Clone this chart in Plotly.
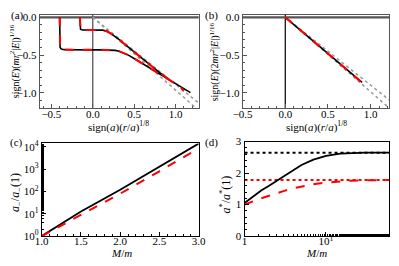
import plotly.graph_objects as go

# ---------------- data ----------------
# panel (a)
a_deep_x = [-0.40, -0.40, -0.399, -0.395, -0.385, -0.37, -0.34, -0.25, -0.1, 0.0, 0.1, 0.2, 0.27, 0.32, 0.37, 0.43, 0.5, 0.6, 0.7, 0.8, 0.9, 1.0, 1.1, 1.18]
a_deep_y = [0.0, -0.30, -0.36, -0.395, -0.415, -0.423, -0.427, -0.43, -0.43, -0.43, -0.43, -0.432, -0.437, -0.45, -0.47, -0.5, -0.545, -0.61, -0.675, -0.74, -0.81, -0.875, -0.94, -0.995]
a_deep_red_x = a_deep_x[:-2] + [1.06, 1.1]
a_deep_red_y = a_deep_y[:-2] + [-0.92, -0.975]
a_shal_x = [-0.155, -0.155, -0.153, -0.148, -0.14, -0.12, -0.05, 0.05, 0.12, 0.17, 0.22, 0.3, 0.4, 0.5, 0.6, 0.7, 0.8, 0.9]
a_shal_y = [0.0, -0.10, -0.135, -0.155, -0.163, -0.167, -0.168, -0.168, -0.17, -0.185, -0.215, -0.28, -0.37, -0.46, -0.55, -0.635, -0.725, -0.805]
a_dot1_x = [0.0, 1.3]
a_dot1_y = [0.0, -1.15]
a_dot2_x = [0.0, 1.3]
a_dot2_y = [0.0, -1.25]

# panel (b)
b_black_x = [0.0, 0.3, 0.6, 0.9]
b_black_y = [0.0, -0.285, -0.57, -0.86]
b_red_x = [0.0, 0.3, 0.6, 0.9, 0.95]
b_red_y = [0.0, -0.285, -0.57, -0.865, -0.92]
b_dot1_x = [0.0, 1.25]
b_dot1_y = [0.0, -1.12]
b_dot2_x = [0.0, 1.25]
b_dot2_y = [0.0, -1.23]

# panel (c)
c_x = [1.0, 1.5, 2.0, 2.5, 3.0]
c_black = [1.0, 12.6, 1.2e2, 1.35e3, 1.4e4]
c_red = [1.0, 8.9, 80.0, 8.0e2, 8.5e3]

# panel (d)
d_x = [1, 1.3, 1.6, 2, 2.5, 3, 4, 5, 7, 10, 15, 20, 30, 45, 60]
d_black = [1.05, 1.28, 1.45, 1.6, 1.76, 1.88, 2.1, 2.26, 2.43, 2.55, 2.62, 2.64, 2.65, 2.65, 2.65]
d_red = [1.0, 1.12, 1.2, 1.28, 1.37, 1.43, 1.52, 1.58, 1.65, 1.70, 1.74, 1.76, 1.77, 1.78, 1.78]
d_black_limit = 2.65
d_red_limit = 1.78

# ---------------- figure ----------------
FONT = "Liberation Serif"
fig = go.Figure()

def line(x, y, xa, ya, color, width, dash="solid"):
    fig.add_trace(go.Scatter(x=x, y=y, mode="lines", xaxis=xa, yaxis=ya,
                             line=dict(color=color, width=width, dash=dash),
                             showlegend=False, hoverinfo="skip"))

GRAY = "#555555"
DOTG = "#999999"
# (a)
line([0, 0], [-1.3, 0.1], "x", "y", GRAY, 1.3)
line([-1, 2], [0, 0], "x", "y", GRAY, 2.2)
line(a_dot1_x, a_dot1_y, "x", "y", DOTG, 1.5, "dot")
line(a_dot2_x, a_dot2_y, "x", "y", DOTG, 1.5, "dot")
line(a_deep_x, a_deep_y, "x", "y", "black", 1.6)
line(a_shal_x, a_shal_y, "x", "y", "black", 1.6)
line(a_deep_red_x, a_deep_red_y, "x", "y", "red", 2, "dash")
line(a_shal_x, a_shal_y, "x", "y", "red", 2, "dash")
# (b)
line([0, 0], [-1.3, 0.1], "x2", "y2", "black", 1.2)
line([-1, 2], [0, 0], "x2", "y2", GRAY, 2.2)
line(b_dot1_x, b_dot1_y, "x2", "y2", DOTG, 1.5, "dot")
line(b_dot2_x, b_dot2_y, "x2", "y2", DOTG, 1.5, "dot")
line(b_black_x, b_black_y, "x2", "y2", "black", 1.6)
line(b_red_x, b_red_y, "x2", "y2", "red", 2, "dash")
# (c)
line(c_x, c_black, "x3", "y3", "black", 1.8)
line(c_x, c_red, "x3", "y3", "red", 2, "dash")
# (d)
line([1, 60], [d_black_limit] * 2, "x4", "y4", "black", 2, "dot")
line([1, 60], [d_red_limit] * 2, "x4", "y4", "red", 2, "dot")
line(d_x, d_black, "x4", "y4", "black", 1.8)
line(d_x, d_red, "x4", "y4", "red", 2, "dash")

tickfont = dict(family=FONT, size=11, color="black")

def ax(domain, rng, anchor, lc="black", **kw):
    d = dict(domain=domain, range=rng, anchor=anchor, showgrid=False, zeroline=False,
             showline=True, linecolor=lc, linewidth=1, mirror=True,
             ticks="inside", ticklen=4, tickcolor=lc, tickfont=tickfont)
    d.update(kw)
    return d

minor01 = dict(ticks="inside", ticklen=2, dtick=0.1, tickcolor="#555")

fig.update_layout(
    width=399, height=266, margin=dict(l=0, r=0, t=0, b=0),
    plot_bgcolor="white", paper_bgcolor="white",
    xaxis=ax([0.078, 0.494], [-0.64, 1.28], "y", lc=GRAY, tickvals=[-0.5, 0, 0.5, 1.0],
             ticktext=["−0.5", "0.0", "0.5", "1.0"], minor=minor01, ticklabelstandoff=-4),
    yaxis=ax([0.598, 0.966], [-1.2, 0.035], "x", lc=GRAY, tickvals=[-1.0, -0.5, 0.0],
             ticktext=["−1.0", "−0.5", "0.0"], minor=minor01),
    xaxis2=ax([0.609, 0.993], [-0.5, 1.22], "y2", lc=GRAY, tickvals=[-0.5, 0, 0.5, 1.0],
              ticktext=["−0.5", "0.0", "0.5", "1.0"], minor=minor01, ticklabelstandoff=-4),
    yaxis2=ax([0.598, 0.966], [-1.2, 0.035], "x2", lc=GRAY, tickvals=[-1.0, -0.5, 0.0],
              ticktext=["−1.0", "−0.5", "0.0"], minor=minor01),
    xaxis3=ax([0.083, 0.494], [1.0, 3.0], "y3", tickvals=[1.0, 1.5, 2.0, 2.5, 3.0],
              ticktext=["1.0", "1.5", "2.0", "2.5", "3.0"], ticklabelstandoff=-5,
              minor=dict(ticks="inside", ticklen=2, dtick=0.1, tickcolor="black")),
    yaxis3=ax([0.094, 0.459], [0, 4.15], "x3", type="log",
              tickvals=[1, 10, 100, 1000, 10000],
              ticktext=["10<sup>0</sup>", "10<sup>1</sup>", "10<sup>2</sup>", "10<sup>3</sup>", "10<sup>4</sup>"],
              minor=dict(ticks="inside", ticklen=2, tickcolor="black")),
    xaxis4=ax([0.614, 0.993], [0, 1.778], "y4", type="log", tickvals=[1, 10],
              ticktext=["1", "10<sup>1</sup>"], ticklabelstandoff=-5,
              minor=dict(ticks="inside", ticklen=2, tickcolor="black")),
    yaxis4=ax([0.094, 0.466], [0, 3], "x4", tickvals=[0, 1, 2, 3],
              ticktext=["0", "1", "2", "3"],
              minor=dict(ticks="inside", ticklen=2, dtick=0.2, tickcolor="black")),
)

W, H = 399, 266
def note(txt, px, py, size=11, angle=0):
    fig.add_annotation(text=txt, x=px / W, y=1 - py / H, xref="paper", yref="paper",
                       xanchor="center", yanchor="middle", showarrow=False, textangle=angle,
                       font=dict(family=FONT, size=size, color="black"))

xt_a = "sign(<i>a</i>)(<i>r</i>/<i>a</i>)<sup>1/8</sup>"
note(xt_a, 113, 126)
note(xt_a, 320, 126)
note("<i>M</i>/<i>m</i>", 116, 259, size=11)
note("<i>M</i>/<i>m</i>", 320, 259, size=11)
note("sign(<i>E</i>)(<i>mr</i><sup>2</sup>|<i>E</i>|)<sup>1/16</sup>", 5, 58, size=10, angle=-90)
note("sign(<i>E</i>)(2<i>mr</i><sup>2</sup>|<i>E</i>|)<sup>1/16</sup>", 213, 58, size=10, angle=-90)
note("<i>a</i><sub>−</sub>/<i>a</i><sub>−</sub>(1)", 7, 195, size=12, angle=-90)
note("<i>a</i><sup>*</sup>/<i>a</i><sup>*</sup>(1)", 225, 197, size=12, angle=-90)

for txt, px, py in [("(a)", 8, 10), ("(b)", 210, 10), ("(c)", 7, 143), ("(d)", 210, 143)]:
    note(txt, px, py, size=11)

fig.write_html("out.html", config={"displayModeBar": False},
               post_script="document.body.style.margin='0';document.body.style.overflow='hidden';")
